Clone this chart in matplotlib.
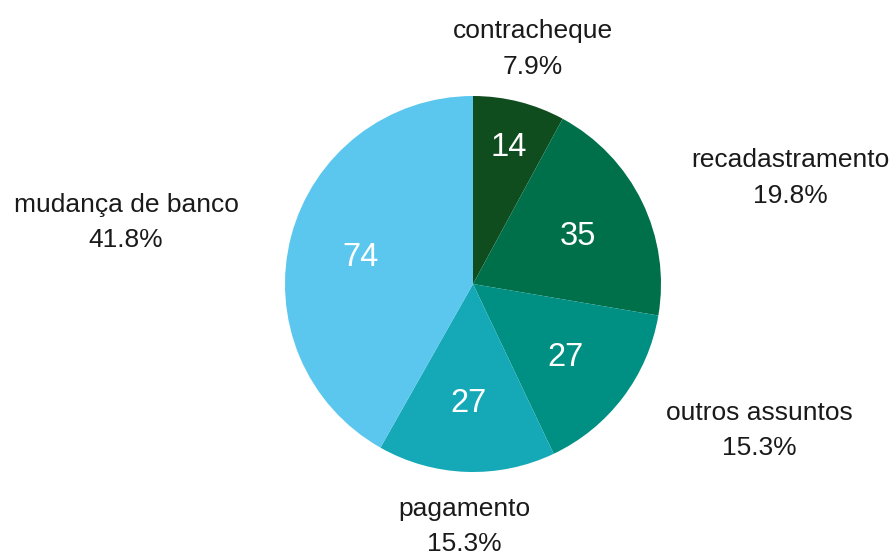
import numpy as np
import matplotlib.pyplot as plt

plt.rcParams['font.family'] = ['Liberation Sans', 'DejaVu Sans']

# Dados
categorias = ['contracheque', 'recadastramento', 'outros assuntos', 'pagamento', 'mudança de banco']
valores = [14, 35, 27, 27, 74]
cores = ['#0f4d1f', '#00704a', '#008f83', '#15a9b8', '#5bc6ee']

W, H = 894, 554
fig = plt.figure(figsize=(W / 100, H / 100), dpi=100)
ax = fig.add_axes([0, 0, 1, 1])

# centro do pie em pixels (473, 284), raio 188
cx, cy, R = 473, 284, 188

wedges, _ = ax.pie(valores, colors=cores, startangle=90, counterclock=False,
                   radius=R, wedgeprops=dict(linewidth=0), center=(0, 0))

# limites depois do pie (o pie redefine os eixos)
ax.set_xlim(-cx, W - cx)
ax.set_ylim(-(H - cy), cy)
ax.set_aspect('equal')
ax.axis('off')

total = sum(valores)
for w, cat, v in zip(wedges, categorias, valores):
    ang = np.deg2rad((w.theta1 + w.theta2) / 2)
    c, s = np.cos(ang), np.sin(ang)
    # valor dentro da fatia
    rin = 0.77 if v / total < 0.1 else 0.62
    ax.text(rin * R * c, rin * R * s, str(v), ha='center', va='center_baseline',
            color='white', fontsize=23.5)
    # rótulo fora
    rout = 1.29 * R
    if abs(c) < 0.3:
        ha = 'center'
    elif c > 0:
        ha = 'left'
    else:
        ha = 'right'
    ax.text(rout * c, rout * s, f'{cat}\n{100 * v / total:.1f}%', ha=ha, va='center',
            multialignment='center', fontsize=19, color='#1a1a1a', linespacing=1.6)

fig.savefig('out.png', dpi=100, facecolor='white')
